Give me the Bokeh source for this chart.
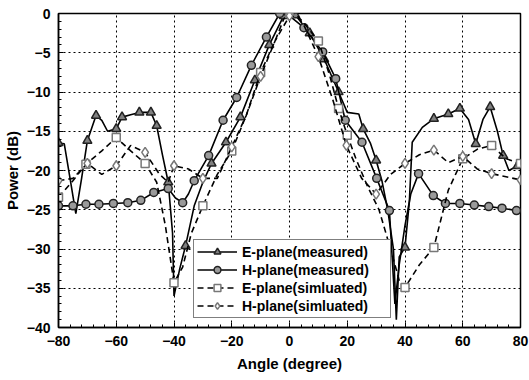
from bokeh.plotting import figure
from bokeh.models import FixedTicker, Legend, LegendItem, Range1d
from bokeh.embed import file_html
from bokeh.resources import INLINE

# ---- data (angle in degree, power in dB) ----
e_meas_ang = [-80, -78, -76, -74, -72, -70, -67, -65, -63, -60, -58, -55, -52, -48, -46, -44, -42, -40.5, -40,
              -38, -36, -33, -30, -27, -22, -17, -12, -7, -2, 0, 2, 7, 12, 17, 20, 24, 25.5, 28, 30, 32, 34, 36,
              37, 38, 40, 41.5, 42.5, 46, 50, 55, 59, 62, 64.5, 67, 69.5, 72, 74, 76, 79, 80]
e_meas_db = [-16.5, -16.6, -21, -25.5, -21, -16.2, -13, -13.6, -15, -14.7, -13.2, -12.9, -12.6, -12.6, -14.3, -18,
             -21.5, -28, -36, -32.5, -29.6, -24.5, -21.5, -19.1, -16.4, -13.2, -8.5, -4, -0.3, 0, -0.2, -2.5, -5.8,
             -10, -12.6, -12.8, -14.7, -16.5, -18.7, -21.3, -25, -30, -39, -31, -29.8, -24, -16.4, -14.5, -13.4,
             -12.8, -12.1, -13.5, -16.6, -13.5, -11.9, -15, -18.1, -20, -19.4, -19.5]
e_meas_mark = [-80, -70, -67, -60, -58, -52, -48, -46, -42, -36, -27, -22, -17, -12, -7, -2, 2, 7, 12, 17,
               25.5, 30, 40, 50, 55, 59, 64.5, 69.5, 74, 79]

h_meas_ang = [-80, -75, -70.5, -66, -61, -56, -51.5, -47, -42, -39.5, -37, -35, -33, -28, -23, -18.3, -13.2, -8,
              -3.4, 0, 5, 11.5, 16, 19.3, 25.1, 30.2, 34.6, 36.5, 38, 40, 42, 44.7, 49.8, 54, 59, 64, 69, 73.6,
              78.6, 80]
h_meas_db = [-24.5, -24.5, -24.3, -24.3, -24.2, -24.1, -23.8, -22.8, -22.3, -23.5, -24.1, -23, -21.3, -18.1,
             -13.6, -10.7, -6.6, -3, 0, -0.3, -1.8, -4.9, -8.3, -13.6, -16.4, -21, -25.1, -37, -32, -27, -23,
             -20.4, -23.2, -24.2, -24.2, -24.4, -24.6, -24.8, -25.1, -25.3]
h_meas_mark = [-80, -75, -70.5, -66, -61, -56, -51.5, -47, -42, -37, -33, -28, -23, -18.3, -13.2, -8, -3.4, 5,
               11.5, 16, 19.3, 25.1, 30.2, 34.6, 44.7, 49.8, 54, 59, 64, 69, 73.6, 78.6]

e_sim_ang = [-80, -75, -70.5, -65, -60, -55, -50, -46, -43, -40, -37, -34, -30, -25, -20, -15, -10, -5, -2, 0, 2,
             5, 10, 14, 17, 20, 23, 27, 31, 35, 38, 40, 45, 50, 55, 60, 65, 70, 75, 80]
e_sim_db = [-23.4, -21.3, -19.2, -17.5, -15.8, -17.5, -19.1, -21.5, -27, -34.3, -32.3, -28, -24.5, -20.5, -17.5,
            -13, -7.5, -3.5, -0.7, 0, 0, -1.2, -3.5, -8, -12.1, -15.5, -18.5, -22, -25, -30, -34, -34.9, -32,
            -29.8, -22.5, -18.5, -17.3, -16.8, -18.5, -19.1]
e_sim_mark = [-80, -70.5, -60, -50, -40, -30, -20, -10, 0, 10, 17, 20, 40, 50, 60, 70, 80]

h_sim_ang = [-80, -75, -70, -65, -60, -55, -50, -45, -42, -40, -35, -30, -25, -20, -15, -10, -5, 0, 3, 5, 10, 15,
             19.7, 25, 30, 35, 40, 45, 50, 55, 60, 65, 70, 75, 80]
h_sim_db = [-21.3, -21, -19.1, -20.5, -19.4, -16.8, -17.7, -20.5, -21.5, -19.4, -19.8, -21, -21, -17, -13, -8,
            -3.5, -0.3, -0.5, -1.5, -5.5, -11, -16.8, -21, -23, -20.5, -19.1, -18, -17.4, -19, -18.2, -19.8,
            -20.4, -20.8, -21.2]
h_sim_mark = [-80, -70, -60, -50, -40, -30, -20, -10, 0, 10, 19.7, 30, 40, 50, 60, 70, 80]

labels = ["E-plane(measured)", "H-plane(measured)", "E-plane(simluated)", "H-plane(simluated)"]
x_ticks = [-80, -60, -40, -20, 0, 20, 40, 60, 80]
y_ticks = [0, -5, -10, -15, -20, -25, -30, -35, -40]

FONT = "Liberation Sans"

p = figure(width=529, height=380, frame_width=462, frame_height=314, min_border_left=50, min_border_right=17,
           min_border_top=13, min_border_bottom=53, output_backend="svg", toolbar_location=None,
           x_range=Range1d(-80, 80), y_range=Range1d(-40, 0))
p.background_fill_color = "white"
p.border_fill_color = "white"
p.outline_line_color = "black"
p.outline_line_width = 1.5

for ax in (p.xaxis[0], p.yaxis[0]):
    ax.axis_line_width = 1.5
    ax.axis_line_color = "black"
    ax.major_tick_in = 5
    ax.major_tick_out = 0
    ax.minor_tick_in = 3
    ax.minor_tick_out = 0
    ax.major_tick_line_color = "black"
    ax.minor_tick_line_color = "black"
    ax.major_label_text_font = FONT
    ax.major_label_text_font_style = "bold"
    ax.major_label_text_font_size = "14px"
    ax.major_label_text_color = "black"
    ax.axis_label_text_font = FONT
    ax.axis_label_text_font_style = "bold"
    ax.axis_label_text_font_size = "15px"
    ax.axis_label_text_color = "black"
    ax.major_label_standoff = 8

p.xaxis.ticker = FixedTicker(ticks=x_ticks, minor_ticks=list(range(-80, 81, 4)))
p.yaxis.ticker = FixedTicker(ticks=y_ticks, minor_ticks=list(range(-40, 1, 1)))
p.xaxis.axis_label = "Angle (degree)"
p.yaxis.axis_label = "Power (dB)"
p.xaxis.axis_label_standoff = 6
p.yaxis.axis_label_standoff = 3

for g in (p.xgrid[0], p.ygrid[0]):
    g.grid_line_color = "black"
    g.grid_line_dash = "2 3"
    g.grid_line_width = 1

def pick(ang, db, mark):
    xs, ys = [], []
    for a, d in zip(ang, db):
        if a in mark:
            xs.append(a)
            ys.append(d)
    return xs, ys

series = [
    (e_meas_ang, e_meas_db, e_meas_mark, "solid", "triangle", "#808080", 9),
    (h_meas_ang, h_meas_db, h_meas_mark, "solid", "circle", "#9a9a9a", 8),
    (e_sim_ang, e_sim_db, e_sim_mark, "6 4", "square", "white", 8),
    (h_sim_ang, h_sim_db, h_sim_mark, "6 4", "diamond", "white", 10),
]

items = []
for (ang, db, mark, dash, mk, fill, size), lab in zip(series, labels):
    lr = p.line(ang, db, line_color="black", line_width=1.6, line_dash=dash)
    mx, my = pick(ang, db, mark)
    mr = p.scatter(mx, my, marker=mk, size=size, fill_color=fill,
                   line_color="#222222" if fill != "white" else "#777777", line_width=1.5)
    items.append(LegendItem(label=lab, renderers=[lr, mr]))

legend = Legend(items=items, location=(135, 9))
legend.label_text_font = FONT
legend.label_text_font_style = "bold"
legend.label_text_font_size = "14px"
legend.label_text_color = "black"
legend.glyph_width = 40
legend.glyph_height = 17
legend.label_height = 17
legend.label_width = 145
legend.label_standoff = 5
legend.spacing = 1
legend.padding = 3
legend.margin = 0
legend.border_line_color = "black"
legend.border_line_width = 1.5
legend.background_fill_color = "white"
legend.background_fill_alpha = 1
p.add_layout(legend, "center")

open("out.html", "w").write(file_html(p, INLINE))
